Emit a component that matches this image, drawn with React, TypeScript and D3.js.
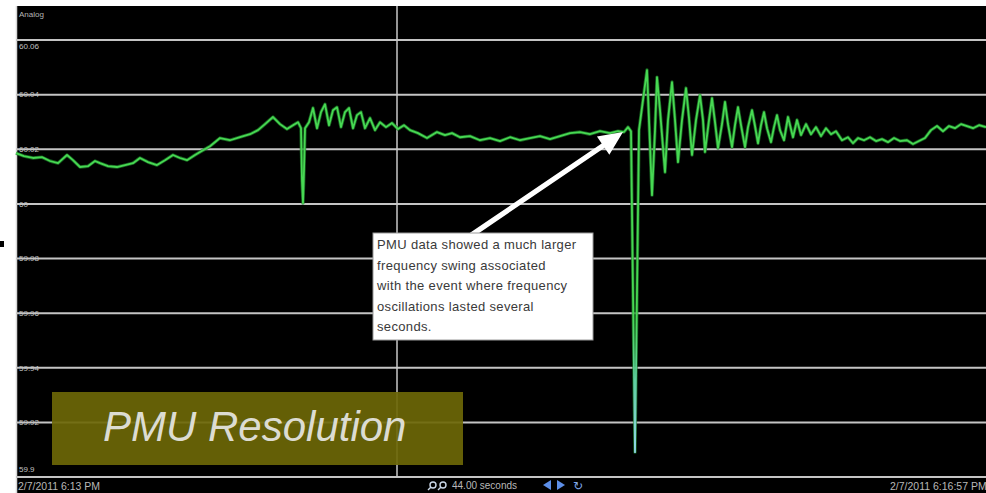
import React from "react";
import * as d3 from "d3";

// time (s, from window start) and frequency (Hz)
const timeSec = [
  0, 1.6, 3.4, 5.2, 6.8, 8.4, 10.2, 11.4, 12.8, 14.4, 15.8, 16.8, 18.4, 20.2, 21.8, 23.4, 24.8, 26.4, 28.2, 29.8,
  31.4, 32.8, 34.2, 35.8, 36.8, 38.8, 40.8, 42.8, 44.8, 46.8, 48.4, 49.8, 51.4, 52.8, 54.2, 55.4, 56.4, 57.0, 57.2, 57.4,
  57.6, 57.8, 58.6, 59.4, 60.2, 61.0, 61.8, 62.6, 63.4, 64.2, 65.0, 65.8, 66.6, 67.4, 68.2, 69.0, 69.8, 70.8, 71.8, 72.8,
  74.0, 75.2, 76.4, 77.6, 78.8, 80.4, 82.2, 84.2, 85.8, 87.2, 88.8, 90.8, 92.8, 94.8, 96.8, 98.8, 100.8, 102.8, 104.8, 106.8,
  108.8, 110.8, 112.8, 114.8, 116.8, 118.8, 120.4, 121.6, 122.4, 123.0, 123.8, 124.6, 125.4, 126.2, 126.6, 127.2, 127.8, 128.2, 128.8, 129.8,
  130.4, 131.2, 131.8, 132.4, 133.2, 134.0, 134.6, 135.2, 136.0, 136.8, 137.4, 137.8, 138.6, 139.2, 139.8, 140.4, 141.2, 141.8, 142.4, 143.2,
  143.8, 144.4, 145.0, 145.8, 146.4, 147.2, 147.8, 148.4, 149.0, 149.6, 150.2, 151.0, 151.6, 152.2, 152.8, 153.6, 154.4, 155.4, 156.2, 157.0,
  158.0, 159.0, 160.0, 161.0, 162.0, 163.0, 164.0, 165.2, 166.4, 167.4, 168.4, 169.6, 170.8, 172.0, 173.2, 174.4, 175.6, 176.8, 178.2, 179.4,
  180.6, 181.8, 183.0, 184.2, 185.4, 186.6, 187.8, 189.0, 190.2, 191.4, 192.6, 194.0,
];
const freqHz = [
  60.0186, 60.0175, 60.0168, 60.0171, 60.0157, 60.0149, 60.0179, 60.016, 60.0135, 60.0138, 60.0157, 60.0149, 60.0138, 60.0135, 60.0142, 60.0149, 60.0168, 60.0153, 60.0142, 60.016,
  60.0179, 60.0168, 60.016, 60.0179, 60.019, 60.0211, 60.0241, 60.0233, 60.0244, 60.0255, 60.027, 60.0292, 60.0318, 60.0292, 60.0274, 60.0288, 60.0299, 60.0277, 60.0087, 60.0003,
  60.0124, 60.0277, 60.0299, 60.0351, 60.0277, 60.0336, 60.0365, 60.0288, 60.0343, 60.0354, 60.0281, 60.0336, 60.0351, 60.0277, 60.0325, 60.0336, 60.0277, 60.0314, 60.027, 60.0299,
  60.0281, 60.0296, 60.0274, 60.0288, 60.027, 60.0259, 60.0241, 60.0263, 60.0252, 60.0259, 60.0244, 60.0248, 60.0233, 60.0241, 60.023, 60.0244, 60.0233, 60.0241, 60.0248, 60.0237,
  60.0248, 60.0259, 60.0263, 60.0255, 60.0266, 60.0259, 60.0266, 60.0263, 60.0281, 60.0266, 59.9091, 60.027, 60.038, 60.049, 60.0307, 60.0032, 60.027, 60.0464, 60.0343, 60.0116,
  60.0307, 60.0446, 60.0307, 60.0153, 60.0307, 60.0424, 60.0314, 60.0179, 60.0307, 60.0398, 60.0307, 60.019, 60.0307, 60.0387, 60.0299, 60.0204, 60.0292, 60.0373, 60.0292, 60.0208,
  60.0288, 60.0354, 60.0288, 60.0208, 60.0281, 60.0343, 60.0285, 60.0222, 60.0288, 60.0336, 60.0277, 60.0226, 60.0281, 60.0325, 60.027, 60.0233, 60.0318, 60.0244, 60.0307, 60.0252,
  60.0292, 60.0255, 60.0281, 60.0248, 60.0277, 60.0255, 60.0266, 60.0233, 60.0244, 60.0222, 60.0241, 60.0233, 60.0244, 60.023, 60.0237, 60.0226, 60.0241, 60.023, 60.0233, 60.0219,
  60.023, 60.0241, 60.027, 60.0285, 60.0266, 60.0285, 60.0277, 60.0292, 60.0285, 60.0277, 60.0288, 60.0281,
];

const yTicks = [60.06, 60.04, 60.02, 60.0, 59.98, 59.96, 59.94, 59.92, 59.9];
const yTickLabels = ["60.06", "60.04", "60.02", "60", "59.98", "59.96", "59.94", "59.92", "59.9"];
const markerTimeSec = 76.2; // vertical cursor
const arrowTarget = { t: 121.4, f: 60.0263 };
const noteLines = [
  "PMU data showed a much larger",
  "frequency swing associated",
  "with the event where frequency",
  "oscillations lasted several",
  "seconds.",
];
const startLabel = "2/7/2011 6:13 PM";
const endLabel = "2/7/2011 6:16:57 PM";
const spanLabel = "44.00 seconds";
const panelTitle = "Analog";
const bannerText = "PMU Resolution";

const W = 986;
const H = 493;
const L = 16;
const T = 6;
const yTop = 40;
const yBot = 477;

export default function App() {
  const x = d3.scaleLinear().domain([0, 194]).range([L, W]);
  const y = d3.scaleLinear().domain([59.9, 60.06]).range([yBot, yTop]);
  const pts: [number, number][] = timeSec.map((t, i) => [t, freqHz[i]]);
  const line = d3
    .line<[number, number]>()
    .x((d) => x(d[0]))
    .y((d) => y(d[1]));
  const pathD = line(pts) || "";

  // arrow
  const tip = { x: x(arrowTarget.t), y: y(arrowTarget.f) };
  const tail = { x: 470, y: 236 };
  const dx = tip.x - tail.x;
  const dy = tip.y - tail.y;
  const len = Math.hypot(dx, dy);
  const ux = dx / len;
  const uy = dy / len;
  const nx = -uy;
  const ny = ux;
  const headLen = 24;
  const headW = 11;
  const shaftW = 2.6;
  const bx = tip.x - ux * headLen;
  const by = tip.y - uy * headLen;
  const arrowPts = [
    [tail.x + nx * shaftW, tail.y + ny * shaftW],
    [bx + nx * shaftW, by + ny * shaftW],
    [bx + nx * headW, by + ny * headW],
    [tip.x, tip.y],
    [bx - nx * headW, by - ny * headW],
    [bx - nx * shaftW, by - ny * shaftW],
    [tail.x - nx * shaftW, tail.y - ny * shaftW],
  ]
    .map((p) => p.join(","))
    .join(" ");

  const labelY = (v: number) => Math.max(46, Math.min(469, y(v)));

  return (
    <svg
      width={W}
      height={H}
      style={{ position: "absolute", left: 0, top: 0, display: "block" }}
      fontFamily="Liberation Sans, Arial, sans-serif"
    >
      <defs>
        <linearGradient id="spikeGrad" gradientUnits="userSpaceOnUse" x1={0} y1={y(59.96)} x2={0} y2={y(59.91)}>
          <stop offset="0" stopColor="#47d852" />
          <stop offset="0.5" stopColor="#5fcfa0" />
          <stop offset="1" stopColor="#8fd6e6" />
        </linearGradient>
        <filter id="blur1" x="-5%" y="-5%" width="110%" height="110%">
          <feGaussianBlur stdDeviation="0.6" />
        </filter>
      </defs>
      <rect x={0} y={0} width={W} height={H} fill="#ffffff" />
      <rect x={L} y={T} width={W - L} height={H - T} fill="#000000" />
      <rect x={0} y={241} width={4} height={6} fill="#000" />
      <line x1={L + 0.5} x2={L + 0.5} y1={T} y2={H} stroke="#d8d8d8" strokeWidth={1.5} />

      <text x={19} y={17} fontSize={8} fill="#b5b5b5">
        {panelTitle}
      </text>

      {/* grid */}
      <g filter="url(#blur1)">
        {yTicks.map((v) => (
          <line key={v} x1={L} x2={W} y1={y(v)} y2={y(v)} stroke="#c4c4c4" strokeWidth={2} />
        ))}
        <line x1={x(markerTimeSec)} x2={x(markerTimeSec)} y1={T} y2={yBot} stroke="#c8c8c8" strokeWidth={1.5} />
      </g>
      {yTicks.map((v, i) => (
        <text key={"l" + v} x={19} y={labelY(v)} dy="0.35em" fontSize={8} fill="#c0c0c0">
          {yTickLabels[i]}
        </text>
      ))}

      {/* banner */}
      <rect x={52} y={392} width={411} height={73} fill="#6d6707" fillOpacity={0.92} />
      <text
        x={103}
        y={441}
        fontSize={42}
        fontStyle="italic"
        fill="#dcdcd2"
        fontFamily="Liberation Sans, Arial, sans-serif"
      >
        {bannerText}
      </text>

      {/* signal */}
      <g filter="url(#blur1)">
        <path d={pathD} fill="none" stroke="#1d7d28" strokeWidth={3.4} strokeOpacity={0.75} strokeLinejoin="round" />
        <path d={pathD} fill="none" stroke="url(#spikeGrad)" strokeWidth={1.8} strokeLinejoin="round" />
      </g>

      {/* annotation */}
      <polygon points={arrowPts} fill="#ffffff" />
      <rect x={373} y={233} width={220} height={107} fill="#ffffff" stroke="#9a9a9a" strokeWidth={1} />
      {noteLines.map((s, i) => (
        <text key={s} x={377} y={249 + i * 20.5} fontSize={13} fill="#3a3a3a" letterSpacing={0.35}>
          {s}
        </text>
      ))}

      {/* bottom bar */}
      <text x={18} y={490} fontSize={10.5} fill="#b8b8b8">
        {startLabel}
      </text>
      <g fill="none" stroke="#c9d6e6" strokeWidth={1.4}>
        <circle cx={433} cy={485} r={3} />
        <line x1={431} y1={487} x2={428} y2={490} />
        <circle cx={443} cy={485} r={3} />
        <line x1={441} y1={487} x2={438} y2={490} />
      </g>
      <text x={452} y={489} fontSize={10} fill="#b8b8b8">
        {spanLabel}
      </text>
      <polygon points="543,485 551,480 551,490" fill="#5d8fe8" />
      <polygon points="565,485 557,480 557,490" fill="#5d8fe8" />
      <text x={573} y={490} fontSize={12} fill="#7fa8e8" fontFamily="DejaVu Sans">
        ↻
      </text>
      <text x={890} y={490} fontSize={10.5} fill="#b8b8b8">
        {endLabel}
      </text>
    </svg>
  );
}
